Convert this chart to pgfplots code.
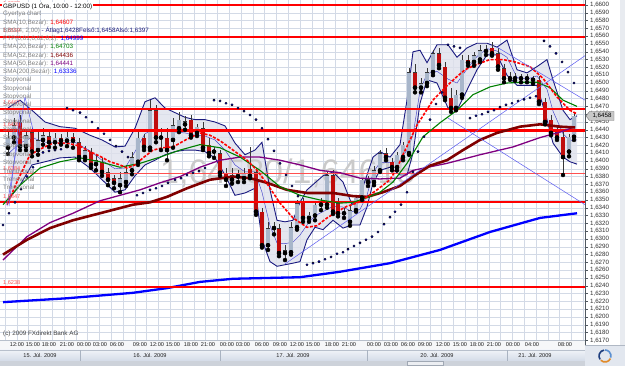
\documentclass[border=0pt]{standalone}
\usepackage{fontspec}
\setmainfont{Liberation Sans}
\usepackage{pgfplots}
\usepackage{pgfplotstable}
\pgfplotsset{compat=1.18}
\usepgfplotslibrary{fillbetween}

\definecolor{gridc}{HTML}{D3DAE6}
\definecolor{bullc}{HTML}{A8B6CA}
\definecolor{bearc}{HTML}{C00D0D}
\definecolor{edgec}{HTML}{383838}
\definecolor{bbline}{HTML}{1A1A80}
\definecolor{bbfill}{HTML}{DFE1EC}
\definecolor{bbmid}{HTML}{4040C8}
\definecolor{smaten}{HTML}{FF0000}
\definecolor{emagreen}{HTML}{008000}
\definecolor{emadark}{HTML}{800000}
\definecolor{smapurple}{HTML}{800080}
\definecolor{smablue}{HTML}{0000FF}
\definecolor{sarc}{HTML}{0000FF}
\definecolor{hline}{HTML}{FF0000}
\definecolor{hthin}{HTML}{FF5050}
\definecolor{trendc}{HTML}{5A5AF0}
\definecolor{labgray}{HTML}{808080}
\definecolor{navytxt}{HTML}{1C1C7C}
\definecolor{tickc}{HTML}{505860}
\definecolor{labc}{HTML}{303030}
\definecolor{wmark}{HTML}{CACACA}
\definecolor{edgeR}{HTML}{E8EBF0}
\definecolor{tagfill}{HTML}{C8C8C8}
\definecolor{tagdraw}{HTML}{707070}
\definecolor{copyc}{HTML}{404040}
\definecolor{panelA}{HTML}{F6F7F9}
\definecolor{pline}{HTML}{B8C0CC}
\definecolor{shtop}{HTML}{F0F3F8}
\definecolor{shbot}{HTML}{D3DBE7}
\definecolor{sepc}{HTML}{A9B3C1}
\definecolor{stripc}{HTML}{CDD2DA}
\definecolor{thumbc}{HTML}{ECEEF2}
\definecolor{thumbd}{HTML}{A0A8B4}
\definecolor{tlab}{HTML}{202020}
\definecolor{brbox}{HTML}{E2E7EF}
\definecolor{brline}{HTML}{B0B8C4}
\definecolor{logoa}{HTML}{1F3F7F}
\definecolor{logob}{HTML}{E08A2A}
\definecolor{logoc}{HTML}{5A8FD0}

\pgfplotstableread{
x o h l c
8 1.6417 1.6437 1.6409 1.6430
14 1.6430 1.6455 1.6424 1.6446
26 1.6419 1.6440 1.6414 1.6433
38 1.6414 1.6437 1.6408 1.6427
43 1.6427 1.6442 1.6421 1.6433
55 1.6424 1.6436 1.6417 1.6430
67 1.6426 1.6440 1.6419 1.6431
85 1.6405 1.6419 1.6401 1.6414
96 1.6396 1.6408 1.6388 1.6401
120 1.6369 1.6386 1.6360 1.6378
126 1.6373 1.6395 1.6368 1.6386
132 1.6388 1.6412 1.6383 1.6405
138 1.6399 1.6440 1.6395 1.6430
150 1.6417 1.6478 1.6414 1.6465
161 1.6430 1.6442 1.6414 1.6432
173 1.6427 1.6455 1.6417 1.6446
179 1.6442 1.6463 1.6437 1.6453
185 1.6447 1.6458 1.6440 1.6451
197 1.6436 1.6447 1.6432 1.6444
214 1.6412 1.6418 1.6404 1.6414
232 1.6376 1.6391 1.6371 1.6382
238 1.6380 1.6388 1.6373 1.6383
244 1.6378 1.6391 1.6373 1.6385
268 1.6292 1.6322 1.6286 1.6314
274 1.6314 1.6322 1.6306 1.6317
285 1.6282 1.6292 1.6273 1.6286
291 1.6283 1.6322 1.6280 1.6315
297 1.6315 1.6350 1.6312 1.6346
309 1.6327 1.6335 1.6322 1.6331
315 1.6330 1.6347 1.6324 1.6344
321 1.6344 1.6353 1.6337 1.6346
327 1.6344 1.6386 1.6340 1.6382
344 1.6333 1.6340 1.6327 1.6335
350 1.6322 1.6344 1.6317 1.6337
356 1.6337 1.6356 1.6335 1.6353
362 1.6353 1.6378 1.6350 1.6376
368 1.6373 1.6381 1.6368 1.6377
374 1.6373 1.6394 1.6369 1.6388
380 1.6388 1.6414 1.6386 1.6410
397 1.6392 1.6412 1.6388 1.6408
403 1.6405 1.6424 1.6401 1.6421
409 1.6410 1.6519 1.6408 1.6514
421 1.6494 1.6506 1.6488 1.6500
427 1.6500 1.6519 1.6496 1.6514
433 1.6514 1.6542 1.6510 1.6538
456 1.6468 1.6491 1.6465 1.6485
462 1.6485 1.6536 1.6481 1.6530
474 1.6527 1.6540 1.6522 1.6536
480 1.6530 1.6549 1.6527 1.6542
515 1.6506 1.6513 1.6503 1.6508
527 1.6506 1.6512 1.6501 1.6508
569 1.6412 1.6435 1.6406 1.6431
574 1.6431 1.6463 1.6427 1.6458
}\bull

\pgfplotstableread{
x o h l c
20 1.6450 1.6459 1.6414 1.6419
32 1.6437 1.6442 1.6406 1.6412
49 1.6432 1.6437 1.6418 1.6424
61 1.6430 1.6435 1.6421 1.6426
73 1.6431 1.6436 1.6417 1.6426
79 1.6424 1.6430 1.6401 1.6405
91 1.6412 1.6417 1.6391 1.6395
102 1.6399 1.6404 1.6381 1.6386
108 1.6386 1.6391 1.6369 1.6376
114 1.6378 1.6382 1.6365 1.6372
144 1.6430 1.6435 1.6414 1.6418
156 1.6465 1.6472 1.6424 1.6430
167 1.6430 1.6442 1.6401 1.6414
191 1.6453 1.6459 1.6430 1.6433
203 1.6442 1.6450 1.6414 1.6417
209 1.6421 1.6430 1.6406 1.6410
220 1.6410 1.6414 1.6381 1.6385
226 1.6385 1.6391 1.6368 1.6376
250 1.6390 1.6418 1.6378 1.6381
256 1.6386 1.6391 1.6331 1.6335
262 1.6335 1.6340 1.6289 1.6292
279 1.6314 1.6319 1.6278 1.6282
303 1.6347 1.6353 1.6322 1.6327
333 1.6382 1.6388 1.6332 1.6335
338 1.6346 1.6353 1.6329 1.6333
386 1.6410 1.6417 1.6401 1.6405
392 1.6399 1.6404 1.6388 1.6392
415 1.6514 1.6524 1.6488 1.6494
439 1.6538 1.6545 1.6519 1.6523
445 1.6521 1.6527 1.6478 1.6481
451 1.6481 1.6494 1.6463 1.6468
468 1.6530 1.6536 1.6522 1.6526
486 1.6542 1.6549 1.6536 1.6541
492 1.6545 1.6553 1.6535 1.6538
498 1.6538 1.6545 1.6517 1.6521
504 1.6519 1.6524 1.6501 1.6506
510 1.6508 1.6514 1.6504 1.6506
521 1.6508 1.6512 1.6501 1.6506
533 1.6506 1.6509 1.6499 1.6504
539 1.6504 1.6509 1.6473 1.6476
545 1.6476 1.6481 1.6447 1.6450
551 1.6453 1.6459 1.6433 1.6436
557 1.6437 1.6445 1.6427 1.6430
563 1.6431 1.6437 1.6382 1.6405
}\bear

\pgfplotsset{
  cwick/.style={only marks, mark=none, error bars/.cd, y dir=plus, y explicit, error mark=none,
    error bar style={line width=0.8pt, draw=edgec}},
  cedge/.style={only marks, mark=none, error bars/.cd, y dir=plus, y explicit, error mark=none,
    error bar style={line width=4.6pt, draw=edgec}},
  cbody/.style={only marks, mark=none, error bars/.cd, y dir=plus, y explicit, error mark=none,
    error bar style={line width=3.3pt, draw=#1, shorten >=0.6pt, shorten <=0.6pt}},
}

\begin{document}
\begin{tikzpicture}[x=1pt,y=1pt]
\fill[edgeR] (620,21) rectangle (625,366);
% watermark
\node[anchor=base west, inner sep=0, text=wmark, font=\fontsize{34}{34}\selectfont] at (160,182) {1,64580/1,64615};

\begin{axis}[
  at={(0pt,25pt)}, anchor=south west,
  width=585pt, height=341pt, scale only axis,
  xmin=0, xmax=585, ymin=1.616923, ymax=1.660641,
  set layers,
  axis line style={draw=none},
  xtick={5,16.8,...,585}, xticklabel={}, xtick style={draw=none},
  xmajorgrids, ymajorgrids,
  major grid style={draw=gridc, line width=0.4pt},
  ytick={1.617,1.618,...,1.6605},
  ytick pos=right, yticklabel pos=right,
  tick align=outside, major tick length=3pt,
  ytick style={draw=tickc, line width=0.4pt},
  scaled y ticks=false,
  yticklabel style={font=\fontsize{6.2}{7}\selectfont, text=labc, inner sep=0.4pt, xshift=1.5pt,
    /pgf/number format/fixed, /pgf/number format/fixed zerofill,
    /pgf/number format/precision=4, /pgf/number format/use comma,
    /pgf/number format/1000 sep={}, /pgf/number format/assume math mode=true},
]
% Bollinger bands
\addplot[name path=bbu, draw=bbline, line width=0.9pt] coordinates {
(8,1.6468) (20,1.6478) (32,1.6465) (45,1.6450) (60,1.6444) (75,1.6442) (90,1.6433) (102,1.6427) (115,1.6418) (125,1.6419) (135,1.6442) (145,1.6476) (155,1.6481) (165,1.6468) (175,1.6462) (185,1.6456) (195,1.6453) (205,1.6453) (215,1.6450) (225,1.6445) (235,1.6423) (245,1.6408) (255,1.6414) (262,1.6424) (270,1.6363) (277,1.6324) (285,1.6322) (293,1.6324) (300,1.6347) (307,1.6363) (315,1.6372) (323,1.6381) (333,1.6386) (343,1.6373) (352,1.6344) (360,1.6356) (367,1.6382) (373,1.6405) (380,1.6412) (390,1.6405) (400,1.6421) (407,1.6478) (413,1.6540) (420,1.6542) (427,1.6526) (437,1.6549) (448,1.6549) (457,1.6533) (467,1.6545) (477,1.6551) (487,1.6551) (497,1.6546) (507,1.6555) (517,1.6517) (527,1.6513) (537,1.6521) (547,1.6530) (553,1.6504) (563,1.6465) (570,1.6453) (577,1.6458)};
\addplot[name path=bbl, draw=bbline, line width=0.9pt] coordinates {
(8,1.6350) (20,1.6369) (32,1.6395) (45,1.6399) (60,1.6404) (75,1.6405) (90,1.6391) (102,1.6376) (115,1.6360) (125,1.6363) (135,1.6381) (145,1.6395) (155,1.6401) (165,1.6408) (175,1.6412) (185,1.6414) (195,1.6414) (205,1.6412) (215,1.6404) (225,1.6382) (235,1.6356) (245,1.6359) (255,1.6365) (262,1.6299) (270,1.6271) (277,1.6265) (285,1.6267) (293,1.6269) (300,1.6271) (307,1.6299) (315,1.6315) (323,1.6312) (333,1.6324) (343,1.6314) (352,1.6318) (360,1.6318) (367,1.6341) (373,1.6372) (380,1.6388) (390,1.6392) (400,1.6382) (407,1.6382) (413,1.6410) (420,1.6474) (427,1.6504) (437,1.6500) (448,1.6468) (457,1.6465) (467,1.6491) (477,1.6517) (487,1.6536) (497,1.6536) (507,1.6510) (517,1.6497) (527,1.6497) (537,1.6497) (547,1.6453) (553,1.6423) (563,1.6405) (570,1.6399) (577,1.6396)};
\addplot[fill=bbfill, fill opacity=0.8] fill between[of=bbu and bbl];
\addplot[draw=bbmid, line width=0.45pt] coordinates {
(8,1.6409) (20,1.6423) (32,1.6430) (45,1.6424) (60,1.6424) (75,1.6424) (90,1.6413) (102,1.6401) (115,1.6390) (125,1.6391) (135,1.6412) (145,1.6435) (155,1.6441) (165,1.6438) (175,1.6437) (185,1.6436) (195,1.6433) (205,1.6432) (215,1.6427) (225,1.6414) (235,1.6395) (245,1.6386) (255,1.6386) (262,1.6360) (270,1.6317) (277,1.6295) (285,1.6294) (293,1.6296) (300,1.6305) (307,1.6318) (315,1.6330) (323,1.6335) (333,1.6342) (343,1.6341) (352,1.6335) (360,1.6338) (367,1.6356) (373,1.6385) (380,1.6398) (390,1.6398) (400,1.6400) (407,1.6414) (413,1.6433) (420,1.6490) (427,1.6512) (437,1.6515) (448,1.6505) (457,1.6500) (467,1.6518) (477,1.6534) (487,1.6544) (497,1.6541) (507,1.6533) (517,1.6507) (527,1.6505) (537,1.6509) (547,1.6492) (553,1.6464) (563,1.6435) (570,1.6426) (577,1.6427)};
% SMA200
\addplot[draw=smablue, line width=2.3pt] coordinates {
(3,1.6219) (67,1.6224) (133,1.6231) (167,1.6237) (200,1.6245) (233,1.6249) (300,1.6251) (340,1.6258) (390,1.6269) (440,1.6286) (490,1.6309) (540,1.6327) (577,1.6333)};
% candles: wicks
\addplot[cwick] table[x=x, y=l, y error plus expr=\thisrow{h}-\thisrow{l}] {\bull};
\addplot[cwick] table[x=x, y=l, y error plus expr=\thisrow{h}-\thisrow{l}] {\bear};
% bodies
\addplot[cedge] table[x=x, y=o, y error plus expr=\thisrow{c}-\thisrow{o}] {\bull};
\addplot[cbody=bullc] table[x=x, y=o, y error plus expr=\thisrow{c}-\thisrow{o}] {\bull};
\addplot[cedge] table[x=x, y=c, y error plus expr=\thisrow{o}-\thisrow{c}] {\bear};
\addplot[cbody=bearc] table[x=x, y=c, y error plus expr=\thisrow{o}-\thisrow{c}] {\bear};
% red horizontal lines
\addplot[draw=hline, line width=2pt] coordinates {(0,1.6600) (585,1.6600)};
\addplot[draw=hline, line width=2.2pt] coordinates {(0,1.6559) (585,1.6559)};
\addplot[draw=hline, line width=2.2pt] coordinates {(0,1.6467) (585,1.6467)};
\addplot[draw=hline, line width=2.6pt] coordinates {(0,1.6439) (585,1.6439)};
\addplot[draw=hthin, line width=0.9pt] coordinates {(0,1.6384) (585,1.6384)};
\addplot[draw=hline, line width=2.2pt] coordinates {(0,1.6347) (585,1.6347)};
\addplot[draw=hline, line width=2pt] coordinates {(0,1.6238) (585,1.6238)};
% SMA50
\addplot[draw=smapurple, line width=1.3pt] coordinates {
(3,1.6273) (27,1.6303) (50,1.6321) (73,1.6333) (100,1.6349) (120,1.6356) (140,1.6363) (160,1.6372) (180,1.6380) (200,1.6392) (220,1.6401) (240,1.6405) (260,1.6405) (280,1.6401) (300,1.6395) (320,1.6388) (340,1.6385) (360,1.6378) (380,1.6377) (400,1.6378) (413,1.6388) (447,1.6397) (480,1.6408) (513,1.6418) (540,1.6430) (560,1.6437) (575,1.6444)};
% EMA52
\addplot[draw=emadark, line width=2.6pt] coordinates {
(3,1.6280) (27,1.6299) (50,1.6314) (73,1.6324) (100,1.6333) (133,1.6344) (150,1.6347) (167,1.6354) (187,1.6365) (210,1.6376) (233,1.6380) (250,1.6378) (267,1.6372) (287,1.6363) (307,1.6359) (333,1.6359) (353,1.6355) (367,1.6354) (383,1.6360) (400,1.6368) (413,1.6380) (430,1.6394) (447,1.6401) (463,1.6414) (480,1.6427) (497,1.6436) (520,1.6444) (540,1.6447) (560,1.6444) (575,1.6443)};
% EMA20
\addplot[draw=emagreen, line width=1.1pt] coordinates {
(3,1.6344) (20,1.6369) (40,1.6391) (60,1.6399) (80,1.6404) (100,1.6399) (120,1.6392) (140,1.6397) (160,1.6405) (180,1.6414) (200,1.6421) (220,1.6417) (240,1.6405) (260,1.6388) (280,1.6367) (300,1.6356) (320,1.6350) (340,1.6346) (353,1.6347) (367,1.6353) (380,1.6360) (393,1.6373) (407,1.6397) (423,1.6431) (440,1.6449) (457,1.6465) (473,1.6485) (490,1.6495) (507,1.6500) (523,1.6501) (537,1.6501) (550,1.6494) (563,1.6478) (577,1.6470)};
% SMA10
\addplot[draw=smaten, line width=1.6pt, dash pattern=on 3pt off 1.5pt] coordinates {
(7,1.6344) (18,1.6376) (30,1.6408) (43,1.6417) (53,1.6423) (67,1.6423) (80,1.6419) (90,1.6412) (100,1.6406) (110,1.6399) (120,1.6395) (127,1.6391) (135,1.6395) (143,1.6404) (153,1.6414) (163,1.6417) (173,1.6418) (187,1.6428) (200,1.6436) (210,1.6433) (220,1.6426) (233,1.6414) (247,1.6401) (257,1.6388) (267,1.6371) (280,1.6346) (293,1.6327) (307,1.6315) (317,1.6317) (327,1.6327) (337,1.6335) (347,1.6342) (357,1.6346) (367,1.6354) (377,1.6363) (390,1.6376) (397,1.6391) (403,1.6408) (410,1.6427) (417,1.6446) (425,1.6462) (433,1.6478) (445,1.6494) (455,1.6506) (465,1.6517) (477,1.6524) (490,1.6530) (503,1.6530) (515,1.6527) (530,1.6521) (543,1.6506) (557,1.6482) (570,1.6465) (576,1.6461)};
% Parabolic SAR
\addplot[only marks, mark=*, mark size=1.15pt, mark options={draw=none, fill=sarc}] coordinates {
(3,1.6318) (9,1.6333) (15,1.6347) (21,1.6364) (27,1.6380) (33,1.6392) (38,1.6400) (43,1.6411) (49,1.6413) (55,1.6414) (61,1.6415)
(67,1.6468) (73,1.6465) (80,1.6462) (86,1.6456) (92,1.6450) (98,1.6442) (104,1.6435) (110,1.6427) (116,1.6419) (122,1.6412) (128,1.6405)
(137,1.6356) (143,1.6359) (150,1.6363) (156,1.6365) (162,1.6368) (168,1.6372) (175,1.6376) (181,1.6378) (187,1.6382) (193,1.6385) (199,1.6387) (205,1.6391)
(214,1.6478) (220,1.6477) (226,1.6474) (232,1.6472) (238,1.6468) (244,1.6464) (250,1.6459) (256,1.6453) (262,1.6442) (268,1.6428) (274,1.6413) (280,1.6397) (286,1.6382) (292,1.6368) (298,1.6355)
(307,1.6267) (313,1.6269) (319,1.6271) (325,1.6274) (331,1.6277) (337,1.6281) (343,1.6283) (348,1.6287) (354,1.6291) (360,1.6295) (366,1.6299) (372,1.6303) (378,1.6309) (384,1.6319) (390,1.6328) (395,1.6335) (401,1.6344) (407,1.6360) (413,1.6386) (418,1.6412) (424,1.6431) (430,1.6453) (436,1.6473) (442,1.6488)
(448,1.6549) (454,1.6547) (460,1.6545)
(470,1.6455) (476,1.6458) (482,1.6460) (488,1.6463) (494,1.6465) (500,1.6469) (506,1.6472) (512,1.6474) (518,1.6477) (524,1.6479) (530,1.6481) (536,1.6483)
(544,1.6554) (550,1.6547) (556,1.6538) (562,1.6527) (568,1.6514) (574,1.6500)};
% trend lines
\addplot[draw=trendc, line width=0.5pt] coordinates {(285,1.6268) (585,1.6535)};
\addplot[draw=trendc, line width=0.5pt] coordinates {(448,1.6455) (585,1.6344)};
\addplot[draw=trendc, line width=0.5pt] coordinates {(497,1.6546) (585,1.6478)};
\addplot[draw=trendc, line width=0.5pt] coordinates {(7,1.6342) (25,1.6482)};
\addplot[draw=trendc, line width=0.5pt] coordinates {(9,1.6342) (20,1.6465)};
\addplot[draw=trendc, line width=0.5pt] coordinates {(25,1.6482) (33,1.6440)};
\end{axis}

% right axis line
\draw[tickc, line width=0.6pt] (585,21) -- (585,366);
% current price tag
\filldraw[fill=tagfill, draw=tagdraw, line width=0.4pt] (586,250) -- (589.5,254.5) -- (614,254.5) -- (614,245.5) -- (589.5,245.5) -- cycle;
\node[font=\fontsize{6.2}{7}\selectfont, text=black, inner sep=0] at (602,250) {1,6458};

% red line labels
\begin{scope}[font=\fontsize{5.6}{6}\selectfont, text=hthin]
\node[anchor=base west, inner sep=0] at (3,360) {1,6600};
\node[anchor=base west, inner sep=0] at (3,333) {1,6559};
\node[anchor=base west, inner sep=0] at (3,261) {1,6467};
\node[anchor=base west, inner sep=0] at (3,239) {1,6439};
\node[anchor=base west, inner sep=0] at (3,195) {1,6384};
\node[anchor=base west, inner sep=0] at (3,167) {1,6347};
\node[anchor=base west, inner sep=0] at (3,81) {1,6238};
\end{scope}

% legend
\begin{scope}[font=\fontsize{6.3}{7}\selectfont]
\node[anchor=west, fill=white, inner sep=1pt, text=black] at (2,360) {GBPUSD (1 Óra, 10:00 - 12:00)};
\node[anchor=west, inner sep=0, text=labgray] at (3,351.75) {Gyertya chart};
\node[anchor=west, inner sep=0, text=labgray] at (3,343.5) {SMA(10,Bezár): \textcolor{smaten}{1,64607}};
\node[anchor=west, inner sep=0, text=labgray] at (3,335.25) {BBG(4, 2,00) \textcolor{navytxt}{- Átlag1,6428Felső:1,6458Alsó:1,6397}};
\node[anchor=west, inner sep=0, text=labgray] at (3,327) {PTP(0,01,0,02,0,2): \textcolor{sarc}{1,64999}};
\node[anchor=west, inner sep=0, text=labgray] at (3,318.75) {EMA(20,Bezár): \textcolor{emagreen}{1,64703}};
\node[anchor=west, inner sep=0, text=labgray] at (3,310.5) {EMA(52,Bezár): \textcolor{emadark}{1,64436}};
\node[anchor=west, inner sep=0, text=labgray] at (3,302.25) {SMA(50,Bezár): \textcolor{smapurple}{1,64441}};
\node[anchor=west, inner sep=0, text=labgray] at (3,294) {SMA(200,Bezár): \textcolor{smablue}{1,63336}};
\foreach \k in {9,...,19} {
  \node[anchor=west, inner sep=0, text=labgray] at (3,{366-6-8.25*\k}) {Stopvonal};
}
\foreach \k in {20,21,22} {
  \node[anchor=west, inner sep=0, text=labgray] at (3,{366-6-8.25*\k}) {Trendvonal};
}
\node[anchor=west, inner sep=0, text=copyc] at (3,32) {(c) 2009 FXdirekt Bank AG};
\end{scope}

% time axis panel
\fill[panelA] (0,16) rectangle (585,26);
\draw[pline, line width=0.5pt] (0,26) -- (585,26);
\shade[top color=shtop, bottom color=shbot] (0,5) rectangle (585,16);
\draw[pline, line width=0.4pt] (0,16) -- (585,16);
\foreach \xx in {80,220,367,507} { \draw[sepc, line width=0.5pt] (\xx,5) -- (\xx,16); }
\fill[stripc] (0,0) rectangle (585,5);
\filldraw[fill=thumbc, draw=thumbd, line width=0.3pt] (407,0.5) rectangle (443,4.5);
\begin{scope}[font=\fontsize{5.6}{6}\selectfont, text=tlab]
\foreach \xx/\tt in {17/12:00,33/15:00,49/18:00,67/21:00,84/00:00,100/03:00,117/06:00,140/09:00,157/12:00,173/15:00,191/18:00,208/21:00,227/00:00,243/03:00,262/06:00,280/09:00,297/12:00,313/15:00,332/18:00,349/21:00,374/00:00,391/03:00,408/06:00,425/09:00,443/12:00,460/15:00,477/18:00,494/21:00,513/00:00,532/04:00,565/08:00} {
  \node[inner sep=0] at (\xx,21) {\tt};
}
\node[inner sep=0] at (40,10.5) {15. Júl. 2009};
\node[inner sep=0] at (150,10.5) {16. Júl. 2009};
\node[inner sep=0] at (293,10.5) {17. Júl. 2009};
\node[inner sep=0] at (437,10.5) {20. Júl. 2009};
\node[inner sep=0] at (535,10.5) {21. Júl. 2009};
\end{scope}

% bottom-right box with logo
\fill[brbox] (585,0) rectangle (625,21);
\draw[brline, line width=0.4pt] (585,21) -- (625,21);
\draw[logoa, line width=1.6pt] (605,10) ++(100:6) arc (100:215:6);
\draw[logob, line width=1.6pt] (605,10) ++(225:6) arc (225:335:6);
\draw[logoc, line width=1.6pt] (605,10) ++(345:6) arc (345:450:6);
\pgfresetboundingbox
\useasboundingbox (0,0) rectangle (625,366);
\end{tikzpicture}
\end{document}
